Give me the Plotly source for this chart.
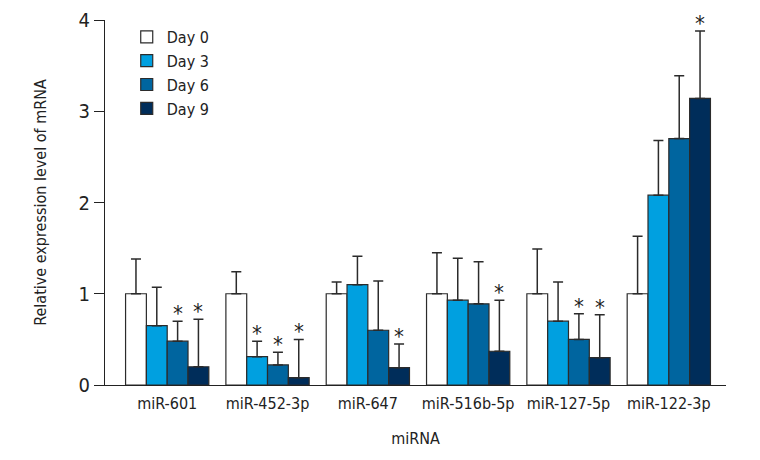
import plotly.graph_objects as go

mirnas = ["miR-601", "miR-452-3p", "miR-647", "miR-516b-5p", "miR-127-5p", "miR-122-3p"]
days = ["Day 0", "Day 3", "Day 6", "Day 9"]

# mean relative expression per day
day0 = [1.00, 1.00, 1.00, 1.00, 1.00, 1.00]
day3 = [0.65, 0.31, 1.10, 0.93, 0.70, 2.08]
day6 = [0.48, 0.22, 0.60, 0.89, 0.50, 2.70]
day9 = [0.20, 0.08, 0.19, 0.37, 0.30, 3.14]

# top of the error bars
err0 = [1.38, 1.24, 1.13, 1.45, 1.49, 1.63]
err3 = [1.07, 0.48, 1.41, 1.39, 1.13, 2.68]
err6 = [0.70, 0.36, 1.14, 1.35, 0.78, 3.39]
err9 = [0.72, 0.50, 0.45, 0.93, 0.77, 3.88]

# significance marks (1 = *)
sig3 = [0, 1, 0, 0, 0, 0]
sig6 = [1, 1, 0, 0, 1, 0]
sig9 = [1, 1, 1, 1, 1, 1]

means = [day0, day3, day6, day9]
tops = [err0, err3, err6, err9]
sigs = [[0] * 6, sig3, sig6, sig9]
colors = ["#ffffff", "#00a0e0", "#00659f", "#002d5a"]

font = "DejaVu Sans Condensed, Liberation Sans Narrow, Roboto, sans-serif"
bw = 0.83 / 4

fig = go.Figure()
for j, name in enumerate(days):
    xs = [i + (j - 1.5) * bw for i in range(len(mirnas))]
    up = [t - m for t, m in zip(tops[j], means[j])]
    fig.add_trace(go.Bar(
        x=xs, y=means[j], width=bw, name=name,
        marker=dict(color=colors[j], line=dict(color="#2b2b2b", width=1.2)),
        error_y=dict(type="data", symmetric=False, array=up,
                     arrayminus=[0] * len(up), color="#2b2b2b",
                     thickness=1.5, width=5),
    ))

# asterisks above the significant error bars
for j in range(4):
    for i in range(len(mirnas)):
        if sigs[j][i]:
            fig.add_annotation(
                x=i + (j - 1.5) * bw, y=tops[j][i], text="*",
                showarrow=False, yanchor="bottom", yshift=-7,
                font=dict(family=font, size=22, color="#222"),
            )

fig.update_layout(
    width=760, height=460,
    margin=dict(l=97, r=42, t=12, b=83),
    plot_bgcolor="white", paper_bgcolor="white",
    font=dict(family=font, size=16, color="#222"),
    barmode="overlay",
    legend=dict(x=0.035, y=1.0, xanchor="left", yanchor="top",
                font=dict(size=16), tracegroupgap=0, itemwidth=30,
                bgcolor="rgba(0,0,0,0)"),
    xaxis=dict(range=[-0.62, 5.57], tickvals=list(range(len(mirnas))),
               ticktext=mirnas, showline=True, linecolor="#222", linewidth=1.2,
               ticks="", showgrid=False, zeroline=False, automargin=False,
               tickfont=dict(size=16), ticklabelstandoff=4,
               title=dict(text="miRNA", standoff=20, font=dict(size=16))),
    yaxis=dict(range=[0, 4], tickvals=[0, 1, 2, 3, 4], showline=True,
               linecolor="#222", linewidth=1.2, ticks="outside", ticklen=10,
               tickcolor="#222", showgrid=False, zeroline=False, automargin=False,
               title=dict(text="Relative expression level of mRNA", standoff=27,
                          font=dict(size=16)),
               tickfont=dict(size=20)),
)

fig.write_html("out.html")
